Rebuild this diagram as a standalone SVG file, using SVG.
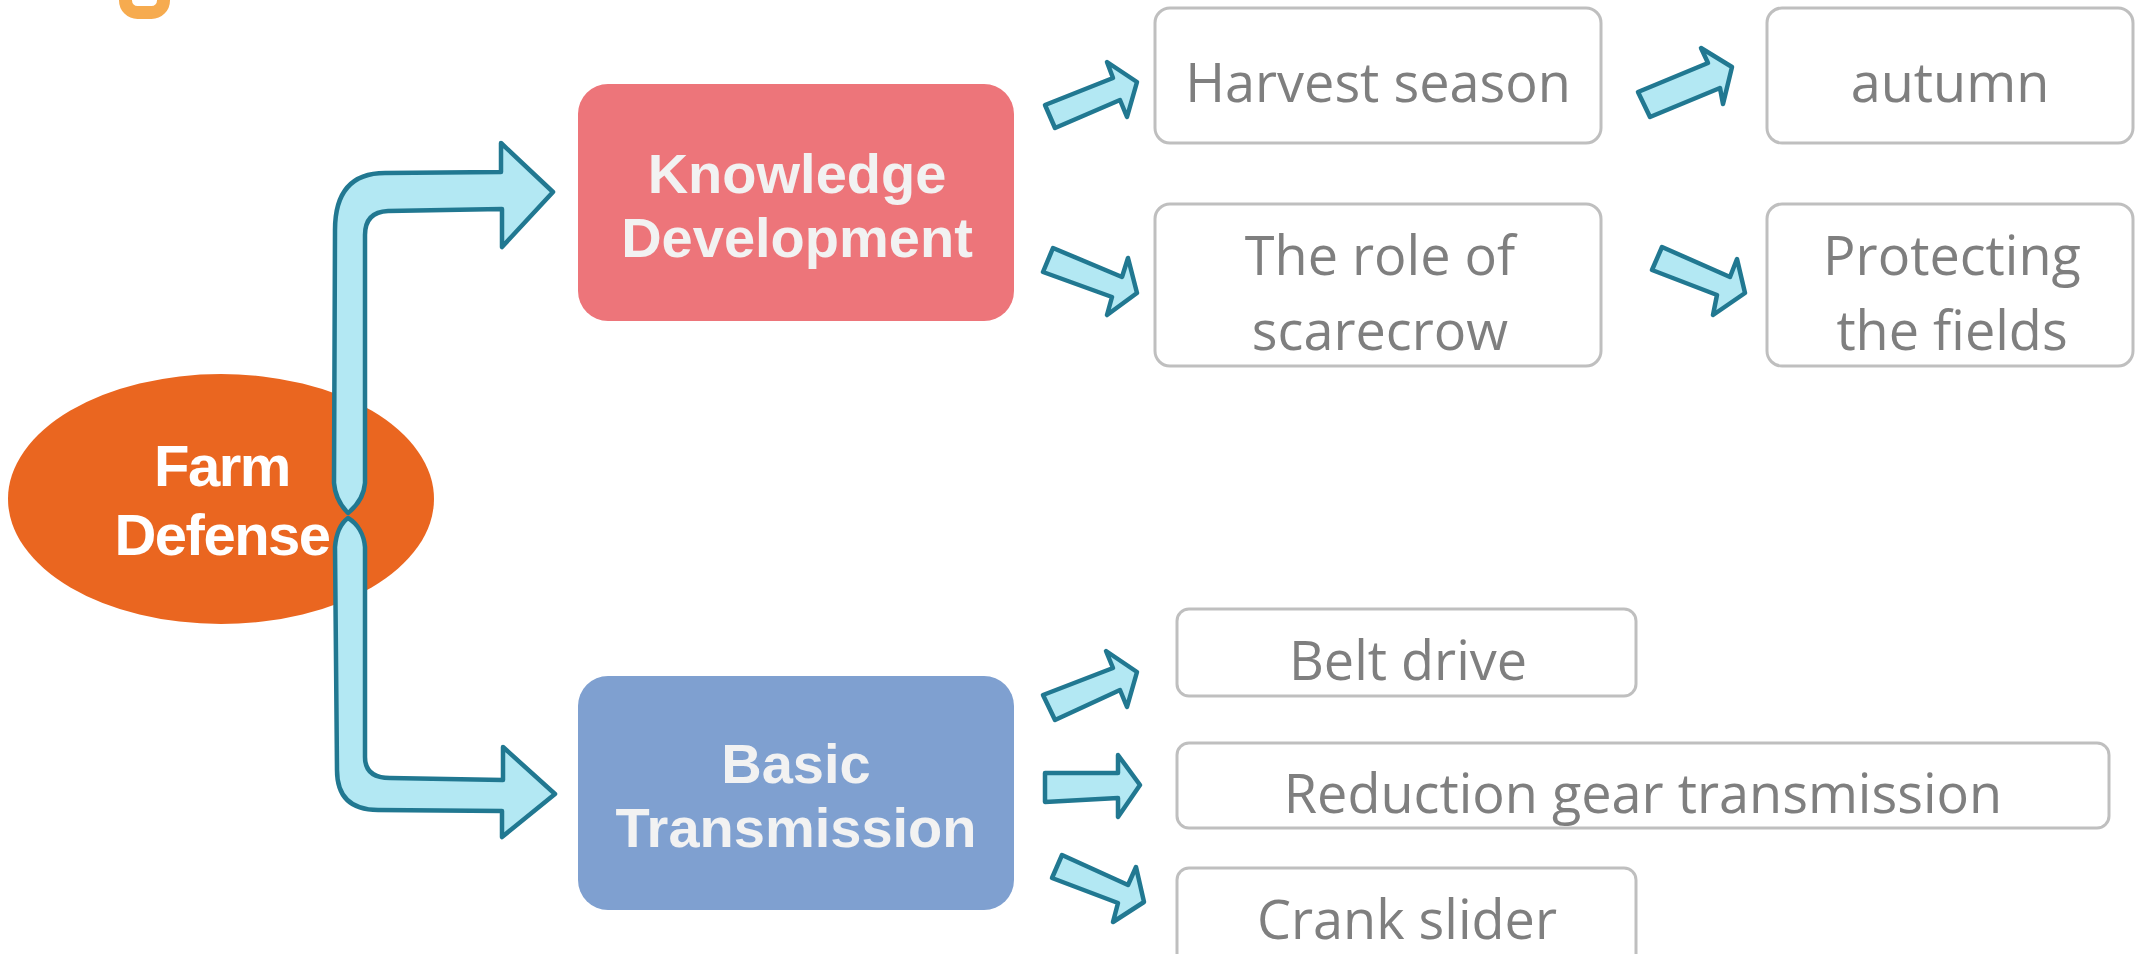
<svg xmlns="http://www.w3.org/2000/svg" width="2136" height="954" viewBox="0 0 2136 954">
<style>
.grey{fill:#FFFFFF;stroke:#BFBFBF;stroke-width:3}
.gt{font-family:"Open Sans","Noto Sans",sans-serif;font-size:54px;fill:#7F7F7F;text-anchor:middle}
.bt{font-family:"Liberation Sans",Arial,sans-serif;font-weight:bold;font-size:56px;fill:#F2F2F2;text-anchor:middle}
.ft{font-family:"Liberation Sans",Arial,sans-serif;font-weight:bold;font-size:58px;fill:#FFFFFF;text-anchor:middle;letter-spacing:-1.5px}
.arr{fill:#B3E8F3;stroke:#217891;stroke-width:4.5;stroke-linejoin:round}
</style>
<rect width="2136" height="954" fill="#FFFFFF"/>
<g id="deco">
<rect x="125.5" y="-40" width="38" height="52.5" rx="12" fill="none" stroke="#F6AB4F" stroke-width="13"/>
</g>
<g id="farm-defense">
<ellipse cx="221" cy="499" rx="213" ry="125" fill="#EA6620"/>
<text class="ft" x="222" y="486">Farm</text>
<text class="ft" x="222" y="555">Defense</text>
</g>
<g id="knowledge-development">
<rect x="578" y="84" width="436" height="237" rx="30" fill="#ED757A"/>
<text class="bt" x="797" y="193">Knowledge</text>
<text class="bt" x="797" y="257">Development</text>
</g>
<g id="basic-transmission">
<rect x="578" y="676" width="436" height="234" rx="30" fill="#7FA0D0"/>
<text class="bt" x="796" y="783">Basic</text>
<text class="bt" x="796" y="847">Transmission</text>
</g>
<g id="harvest-season">
<rect class="grey" x="1155" y="8" width="446" height="135" rx="15"/>
<text class="gt" x="1378" y="102">Harvest season</text>
</g>
<g id="autumn">
<rect class="grey" x="1767" y="8" width="366" height="135" rx="15"/>
<text class="gt" x="1950" y="102">autumn</text>
</g>
<g id="role-of-scarecrow">
<rect class="grey" x="1155" y="204" width="446" height="162" rx="15"/>
<text class="gt" x="1380" y="275">The role of</text>
<text class="gt" x="1380" y="350">scarecrow</text>
</g>
<g id="protecting-fields">
<rect class="grey" x="1767" y="204" width="366" height="162" rx="15"/>
<text class="gt" x="1952" y="275">Protecting</text>
<text class="gt" x="1952" y="350">the fields</text>
</g>
<g id="belt-drive">
<rect class="grey" x="1177" y="609" width="459" height="87" rx="12"/>
<text class="gt" x="1408" y="680">Belt drive</text>
</g>
<g id="reduction-gear">
<rect class="grey" x="1177" y="743" width="932" height="85" rx="12"/>
<text class="gt" x="1643" y="813">Reduction gear transmission</text>
</g>
<g id="crank-slider">
<rect class="grey" x="1177" y="868" width="459" height="110" rx="12"/>
<text class="gt" x="1407" y="939">Crank slider</text>
</g>
<g id="connectors">
<path class="arr" d="M348 513 C340 505 335 495 334 483 L335 230 Q335 173 385 173 L501 172 L501 143 L553 192 L502 247 L502 209 L388 211 Q365 212 365 235 L365 483 C364 495 358 505 348 513 Z"/>
<path class="arr" d="M348 518 C358 524 364 535 365 547 L365 757 Q365 778 390 778 L503 780 L503 747 L555 794 L502 837 L502 811 L378 810 Q337 810 337 770 L335 547 C336 535 340 524 348 518 Z"/>
<polygon class="arr" points="1045,105 1113,78 1107,62 1137,82 1127,117 1120,100 1055,128"/>
<polygon class="arr" points="1053,248 1122,277 1128,258 1137,293 1107,315 1112,297 1043,272"/>
<polygon class="arr" points="1638,92 1708,63 1701,48 1732,67 1723,104 1720,88 1650,117"/>
<polygon class="arr" points="1662,247 1730,277 1737,259 1745,293 1713,315 1717,295 1652,270"/>
<polygon class="arr" points="1043,695 1113,668 1106,651 1137,672 1127,707 1120,690 1055,720"/>
<polygon class="arr" points="1045,773 1118,773 1118,755 1140,785 1118,817 1118,798 1045,802"/>
<polygon class="arr" points="1062,855 1128,885 1136,867 1144,902 1113,922 1118,903 1052,878"/>
</g>
</svg>
